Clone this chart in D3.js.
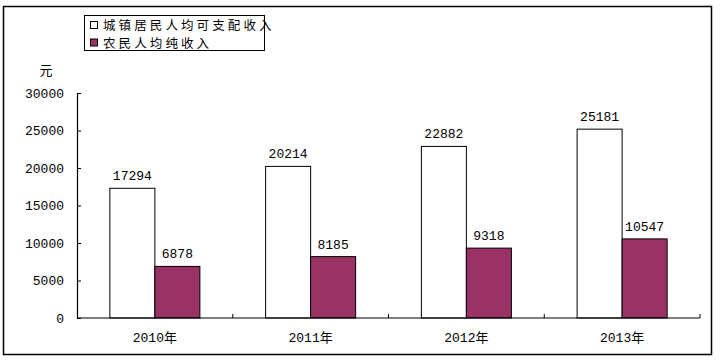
<!DOCTYPE html>
<html><head><meta charset="utf-8">
<script src="https://cdn.jsdelivr.net/npm/d3@7"></script>
<style>
body{margin:0;background:#fff;}
svg{display:block;}
text{font-family:"Liberation Mono","DejaVu Sans Mono","Noto Sans CJK SC",monospace;fill:#000;}
.cjk{font-family:"Noto Sans CJK SC",sans-serif;}
</style></head><body>
<svg id="c" width="721" height="363"></svg>
<script>
const categories = ["2010年","2011年","2012年","2013年"];
const seriesNames = ["城镇居民人均可支配收入","农民人均纯收入"];
const urban = [17294,20214,22882,25181];
const rural = [6878,8185,9318,10547];
const yTicks = [0,5000,10000,15000,20000,25000,30000];
const colors = ["#ffffff","#993366"];

const svg = d3.select("#c");
const L = 77, R = 700, T = 93, B = 318;

// outer border
svg.append("rect").attr("x",3.5).attr("y",6.5).attr("width",708).attr("height",348)
  .attr("fill","none").attr("stroke","#000").attr("stroke-width",1.5);

const x0 = d3.scaleBand().domain(categories).range([L,R]).paddingInner(0).paddingOuter(0);
const x1 = d3.scaleBand().domain([0,1]).range([0,x0.bandwidth()]).paddingInner(0).paddingOuter(0.73);
const y = d3.scaleLinear().domain([0,30000]).range([B,T]);

// bars
const data = categories.map((c,i)=>({c, v:[urban[i],rural[i]]}));
const g = svg.append("g");
data.forEach(d=>{
  d.v.forEach((v,j)=>{
    g.append("rect")
      .attr("x",x0(d.c)+x1(j)).attr("y",y(v))
      .attr("width",x1.bandwidth()).attr("height",y(0)-y(v))
      .attr("fill",colors[j]).attr("stroke","#000").attr("stroke-width",1);
    g.append("text")
      .attr("x",x0(d.c)+x1(j)+x1.bandwidth()/2).attr("y",y(v)-8)
      .attr("text-anchor","middle").attr("font-size",13).text(v);
  });
});

// y axis
const yAxis = d3.axisLeft(y).tickValues(yTicks).tickFormat(d3.format("d")).tickSize(-4).tickPadding(12).tickSizeOuter(0);
const ya = svg.append("g").attr("transform",`translate(${L},0)`).call(yAxis);
ya.select(".domain").attr("stroke","#000").attr("stroke-width",1.2);
ya.selectAll(".tick line").attr("stroke","#000");
ya.selectAll(".tick text").attr("font-size",13).attr("font-family","Liberation Mono, monospace").attr("x",-13);

// x axis
svg.append("line").attr("x1",L).attr("x2",R).attr("y1",B).attr("y2",B).attr("stroke","#000").attr("stroke-width",1.2);
const bounds = categories.map(c=>x0(c)+x0.bandwidth());
bounds.forEach(b=>{
  svg.append("line").attr("x1",b).attr("x2",b).attr("y1",B).attr("y2",B-4).attr("stroke","#000");
});
categories.forEach(c=>{
  svg.append("text").attr("x",x0(c)+x0.bandwidth()/2).attr("y",342)
    .attr("text-anchor","middle").attr("font-size",13).text(c);
});

// unit
svg.append("text").attr("class","cjk").attr("x",46).attr("y",75).attr("text-anchor","middle")
  .attr("font-size",13).text("元");

// legend
svg.append("rect").attr("x",84.5).attr("y",15.5).attr("width",180).attr("height",35)
  .attr("fill","#fff").attr("stroke","#000").attr("stroke-width",1);
const step = 15.6;
seriesNames.forEach((n,i)=>{
  const yy = 21.5 + i*17.5;
  svg.append("rect").attr("x",90.5).attr("y",yy).attr("width",7).attr("height",7)
    .attr("fill",colors[i]).attr("stroke","#000").attr("stroke-width",1);
  const t = svg.append("text").attr("class","cjk").attr("y",yy+8.5)
    .attr("font-size",12.5).text(n);
  // measure glyph width, then place characters so first starts at 103 with fixed pitch
  const node = t.node();
  const gw = node.getNumberOfChars() ? node.getSubStringLength(0,1) : 12.5;
  const pitch = Math.min(step, (259 - 103 - gw) / 9);
  const xs = Array.from(n).map((ch,k)=>103 + k*pitch);
  t.attr("x",xs.join(" "));
});
</script>
</body></html>
